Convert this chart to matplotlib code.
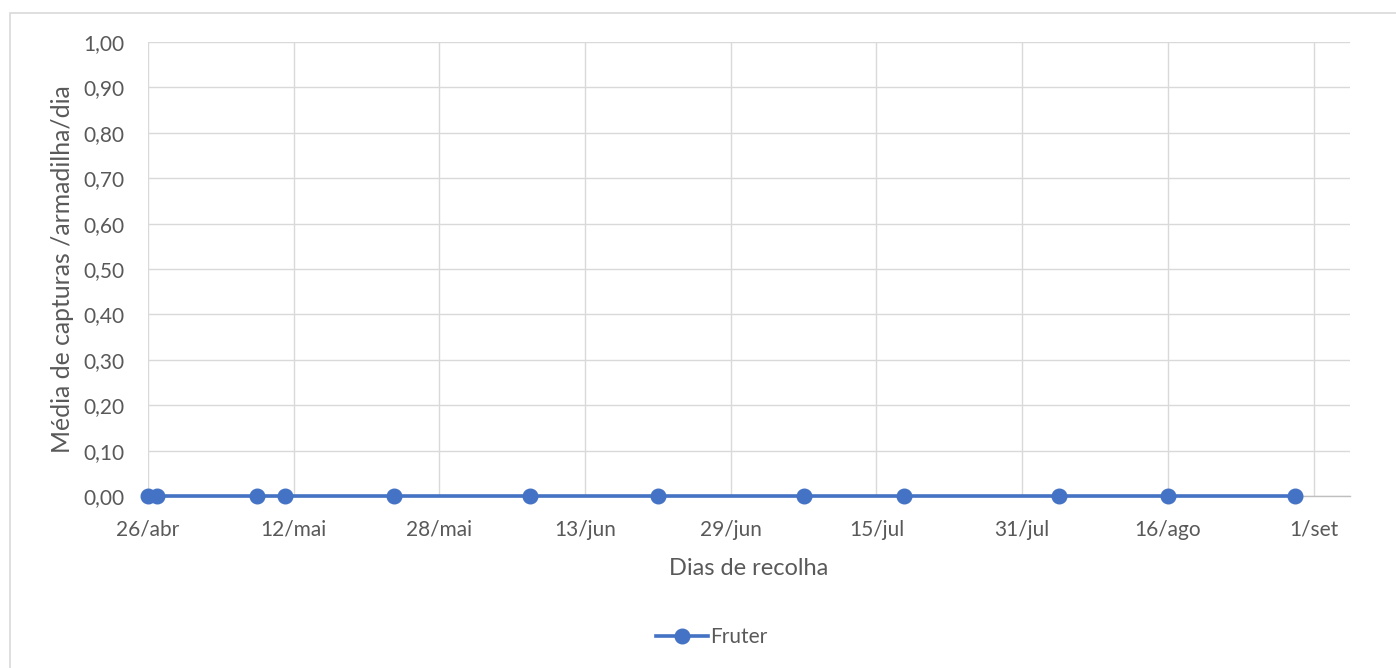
import matplotlib
matplotlib.use("Agg")
import matplotlib.pyplot as plt
from matplotlib.patches import Rectangle
from matplotlib.lines import Line2D
import datetime as dt

plt.rcParams['font.family'] = ['Lato', 'DejaVu Sans']

# Data
collection_dates = ["2021-04-26", "2021-04-27", "2021-05-08", "2021-05-11", "2021-05-23",
                    "2021-06-07", "2021-06-21", "2021-07-07", "2021-07-18", "2021-08-04",
                    "2021-08-16", "2021-08-30"]
fruter_values = [0.0, 0.0, 0.0, 0.0, 0.0, 0.0, 0.0, 0.0, 0.0, 0.0, 0.0, 0.0]
series_name = "Fruter"
x_tick_dates = ["2021-04-26", "2021-05-12", "2021-05-28", "2021-06-13", "2021-06-29",
                "2021-07-15", "2021-07-31", "2021-08-16", "2021-09-01"]
x_tick_labels = ["26/abr", "12/mai", "28/mai", "13/jun", "29/jun", "15/jul", "31/jul", "16/ago", "1/set"]
y_ticks = [0.0, 0.1, 0.2, 0.3, 0.4, 0.5, 0.6, 0.7, 0.8, 0.9, 1.0]
y_tick_labels = ["0,00", "0,10", "0,20", "0,30", "0,40", "0,50", "0,60", "0,70", "0,80", "0,90", "1,00"]
x_label = "Dias de recolha"
y_label = "Média de capturas /armadilha/dia"

W, H = 1396, 668
fig = plt.figure(figsize=(W / 100, H / 100), dpi=100)
fig.patch.set_facecolor("white")

# chart border
fig.patches.append(Rectangle((10 / W, -0.05), 1.2, 1 - 13 / H + 0.05, transform=fig.transFigure,
                             fill=False, edgecolor="#D9D9D9", linewidth=1.2, zorder=0))

ax = fig.add_axes([148 / W, 1 - 496 / H, (1350 - 148) / W, (496 - 42) / H])

xd = [dt.datetime.strptime(s, "%Y-%m-%d") for s in collection_dates]
xt = [dt.datetime.strptime(s, "%Y-%m-%d") for s in x_tick_dates]

color = "#4472C4"
ax.plot(xd, fruter_values, color=color, linewidth=2.6, marker="o", markersize=10.5,
        zorder=5, clip_on=False, solid_capstyle="round")

x0 = dt.datetime(2021, 4, 26)
ax.set_xlim(x0, x0 + dt.timedelta(days=132))
ax.set_ylim(0, 1.0)

ax.set_xticks(xt)
ax.set_xticklabels(x_tick_labels)
ax.set_yticks(y_ticks)
ax.set_yticklabels(y_tick_labels)

ax.tick_params(axis="both", length=0, labelsize=15, labelcolor="#595959")
ax.tick_params(axis="x", pad=17)
ax.tick_params(axis="y", pad=17)

ax.grid(True, color="#D9D9D9", linewidth=1.0)
ax.set_axisbelow(True)
for s in ["top", "right", "left"]:
    ax.spines[s].set_visible(False)
ax.spines["bottom"].set_color("#BFBFBF")
ax.spines["bottom"].set_linewidth(1.0)
ax.spines["bottom"].set_zorder(3)

ax.set_xlabel(x_label, fontsize=17, color="#595959", labelpad=13)
ax.set_ylabel(y_label, fontsize=17.8, color="#595959", labelpad=7)

handle = Line2D([0], [0], color=color, linewidth=2.6, marker="o", markersize=10.5)
fig.legend([handle], [series_name], loc="center", bbox_to_anchor=(712 / W, 1 - 637 / H),
           frameon=False, fontsize=15, labelcolor="#595959", handlelength=2.5,
           handletextpad=0.1)

fig.savefig("out.png", dpi=100, facecolor="white")
